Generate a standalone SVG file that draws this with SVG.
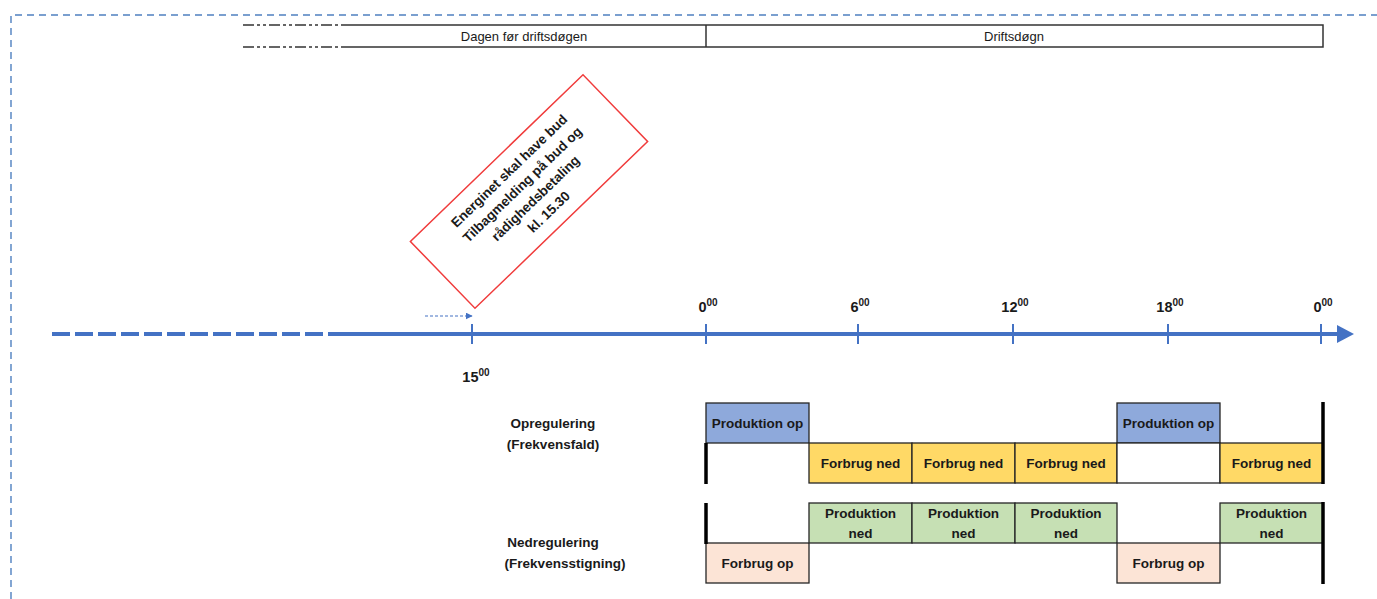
<svg xmlns="http://www.w3.org/2000/svg" width="1377" height="599" viewBox="0 0 1377 599">
  <defs>
    <style>
      text { font-family: "Liberation Sans", Arial, sans-serif; fill: #1a1a1a; }
      .lbl { font-size: 13.5px; font-weight: bold; text-anchor: middle; }
      .hdr { font-size: 13px; text-anchor: middle; }
      .tick { font-size: 14.5px; font-weight: bold; text-anchor: middle; }
      .sup { font-size: 10px; }
      .frame { fill: none; stroke: #4F80C0; stroke-width: 1.4; stroke-dasharray: 7 5; }
      .hline { stroke: #333; stroke-width: 1.5; fill: none; }
      .hdash { stroke: #333; stroke-width: 1.5; fill: none; stroke-dasharray: 11 3 3 3 3 3; }
      .axis { stroke: #4472C4; stroke-width: 4; fill: none; }
      .tk { stroke: #4472C4; stroke-width: 2; }
      .cell { stroke: #262626; stroke-width: 1.3; }
      .pop { fill: #8EA9DB; }
      .fned { fill: #FFD966; }
      .pned { fill: #C6E0B4; }
      .fop { fill: #FCE4D6; }
      .blank { fill: #FFFFFF; }
      .edge { stroke: #000; stroke-width: 3.5; }
    </style>
    <marker id="smallHead" viewBox="0 0 10 10" refX="9" refY="5" markerWidth="7" markerHeight="7" orient="auto" markerUnits="userSpaceOnUse">
      <path d="M0,0 L10,5 L0,10 z" fill="#4472C4"/>
    </marker>
  </defs>

  <!-- outer dashed frame -->
  <path class="frame" d="M11,599 L11,15 L1377,15"/>

  <!-- header band -->
  <g id="header">
    <line class="hdash" x1="243" y1="25" x2="343" y2="25"/>
    <line class="hdash" x1="243" y1="47" x2="343" y2="47"/>
    <path class="hline" d="M343,25 L1323,25 L1323,47 L343,47"/>
    <line class="hline" x1="706" y1="25" x2="706" y2="47"/>
    <text class="hdr" x="524" y="41">Dagen før driftsdøgen</text>
    <text class="hdr" x="1014" y="41">Driftsdøgn</text>
  </g>

  <!-- deadline note -->
  <g id="note" transform="translate(529,191.5) rotate(-44)">
    <rect x="-120" y="-46.5" width="240" height="93" fill="#FFFFFF" stroke="#F03C3C" stroke-width="1.5"/>
    <text class="lbl" x="0" y="-24">Energinet skal have bud</text>
    <text class="lbl" x="0" y="-5">Tilbagmelding på bud og</text>
    <text class="lbl" x="0" y="14">rådighedsbetaling</text>
    <text class="lbl" x="0" y="33">kl. 15.30</text>
  </g>

  <!-- time axis -->
  <g id="timeline">
    <line class="axis" x1="52" y1="334" x2="343" y2="334" stroke-dasharray="18 5"/>
    <line class="axis" x1="343" y1="334" x2="1340" y2="334"/>
    <polygon points="1337,325 1354,334 1337,343" fill="#4472C4"/>
    <line class="tk" x1="472" y1="324" x2="472" y2="344"/>
    <line class="tk" x1="706" y1="324" x2="706" y2="344"/>
    <line class="tk" x1="858" y1="324" x2="858" y2="344"/>
    <line class="tk" x1="1013" y1="324" x2="1013" y2="344"/>
    <line class="tk" x1="1168" y1="324" x2="1168" y2="344"/>
    <line class="tk" x1="1321" y1="324" x2="1321" y2="344"/>
    <text class="tick" x="708" y="312">0<tspan class="sup" dy="-6">00</tspan></text>
    <text class="tick" x="860" y="312">6<tspan class="sup" dy="-6">00</tspan></text>
    <text class="tick" x="1015" y="312">12<tspan class="sup" dy="-6">00</tspan></text>
    <text class="tick" x="1170" y="312">18<tspan class="sup" dy="-6">00</tspan></text>
    <text class="tick" x="1323" y="312">0<tspan class="sup" dy="-6">00</tspan></text>
    <text class="tick" x="476" y="382">15<tspan class="sup" dy="-6">00</tspan></text>
  </g>

  <g id="connectors">
    <line x1="425" y1="316" x2="472" y2="316" stroke="#4472C4" stroke-width="1.2" stroke-dasharray="3 2" marker-end="url(#smallHead)"/>
  </g>

  <!-- up-regulation row -->
  <g id="opregulering">
    <text class="lbl" x="553" y="428">Opregulering</text>
    <text class="lbl" x="553" y="449">(Frekvensfald)</text>
    <rect class="cell pop" x="706" y="403" width="103" height="40"/>
    <rect class="cell fned" x="809" y="443" width="103" height="40"/>
    <rect class="cell fned" x="912" y="443" width="103" height="40"/>
    <rect class="cell fned" x="1015" y="443" width="102" height="40"/>
    <rect class="cell pop" x="1117" y="403" width="103" height="40"/>
    <rect class="cell blank" x="1117" y="443" width="103" height="40"/>
    <rect class="cell fned" x="1220" y="443" width="103" height="40"/>
    <line class="edge" x1="706" y1="443" x2="706" y2="484"/>
    <line class="edge" x1="1323" y1="402" x2="1323" y2="484"/>
    <text class="lbl" x="757.5" y="428">Produktion op</text>
    <text class="lbl" x="860.5" y="468">Forbrug ned</text>
    <text class="lbl" x="963.5" y="468">Forbrug ned</text>
    <text class="lbl" x="1066" y="468">Forbrug ned</text>
    <text class="lbl" x="1168.5" y="428">Produktion op</text>
    <text class="lbl" x="1271.5" y="468">Forbrug ned</text>
  </g>

  <!-- down-regulation row -->
  <g id="nedregulering">
    <text class="lbl" x="553" y="547">Nedregulering</text>
    <text class="lbl" x="565" y="568">(Frekvensstigning)</text>
    <rect class="cell fop" x="706" y="543" width="103" height="40"/>
    <rect class="cell pned" x="809" y="503" width="103" height="40"/>
    <rect class="cell pned" x="912" y="503" width="103" height="40"/>
    <rect class="cell pned" x="1015" y="503" width="102" height="40"/>
    <rect class="cell fop" x="1117" y="543" width="103" height="40"/>
    <rect class="cell pned" x="1220" y="503" width="103" height="40"/>
    <line class="edge" x1="706" y1="503" x2="706" y2="544"/>
    <line class="edge" x1="1323" y1="502" x2="1323" y2="584"/>
    <text class="lbl" x="757.5" y="568">Forbrug op</text>
    <text class="lbl" x="860.5" y="518">Produktion</text>
    <text class="lbl" x="860.5" y="538">ned</text>
    <text class="lbl" x="963.5" y="518">Produktion</text>
    <text class="lbl" x="963.5" y="538">ned</text>
    <text class="lbl" x="1066" y="518">Produktion</text>
    <text class="lbl" x="1066" y="538">ned</text>
    <text class="lbl" x="1168.5" y="568">Forbrug op</text>
    <text class="lbl" x="1271.5" y="518">Produktion</text>
    <text class="lbl" x="1271.5" y="538">ned</text>
  </g>
</svg>
